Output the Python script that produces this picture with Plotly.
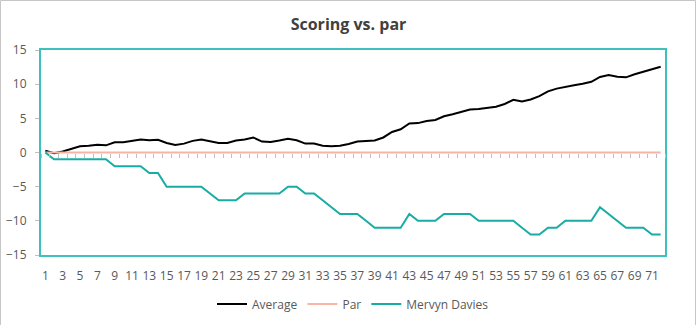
import plotly.graph_objects as go

holes = list(range(1, 73))
average = [0.25, -0.1, 0.15, 0.5, 0.9, 1.0, 1.15, 1.05, 1.5, 1.5, 1.7, 1.9, 1.8, 1.85, 1.4, 1.1,
           1.3, 1.7, 1.9, 1.65, 1.4, 1.4, 1.75, 1.9, 2.2, 1.6, 1.55, 1.75, 2.0, 1.8, 1.3, 1.3,
           1.0, 0.9, 1.0, 1.25, 1.6, 1.7, 1.75, 2.2, 3.0, 3.4, 4.25, 4.3, 4.6, 4.75, 5.3, 5.6,
           5.9, 6.3, 6.35, 6.5, 6.7, 7.1, 7.7, 7.45, 7.75, 8.25, 8.95, 9.35, 9.65, 9.85, 10.05,
           10.35, 11.05, 11.35, 11.1, 11.0, 11.45, 11.85, 12.25, 12.55]
par = [0] * 72
mervyn = [0, -1, -1, -1, -1, -1, -1, -1, -2, -2, -2, -2, -3, -3, -5, -5, -5, -5, -5, -6,
          -7, -7, -7, -6, -6, -6, -6, -6, -5, -5, -6, -6, -7, -8, -9, -9, -9, -10, -11, -11,
          -11, -11, -9, -10, -10, -10, -9, -9, -9, -9, -10, -10, -10, -10, -10, -11, -12, -12,
          -11, -11, -10, -10, -10, -10, -8, -9, -10, -11, -11, -11, -12, -12]
x_tick_vals = list(range(1, 72, 2))
x_tick_text = [str(v) for v in x_tick_vals]
y_tick_vals = [-15, -10, -5, 0, 5, 10, 15]

W, H = 697, 325
ML, MR, MT, MB = 41, 32, 50, 70
PW, PH = W - ML - MR, H - MT - MB

fig = go.Figure()
fig.add_trace(go.Scatter(x=holes, y=average, name="Average", mode="lines",
                         line=dict(color="#000000", width=2)))
fig.add_trace(go.Scatter(x=holes, y=par, name="Par", mode="lines",
                         line=dict(color="#F7B5A5", width=2)))
fig.add_trace(go.Scatter(x=holes, y=mervyn, name="Mervyn Davies", mode="lines",
                         line=dict(color="#17ADA5", width=2)))

font = "Open Sans, Noto Sans, sans-serif"
fig.update_layout(
    width=W, height=H,
    margin=dict(l=ML, r=MR, t=MT, b=MB, autoexpand=False),
    paper_bgcolor="white", plot_bgcolor="white",
    title=dict(text="<b>Scoring vs. par</b>", x=0.5, xanchor="center", y=1 - 24 / H,
               yanchor="middle", font=dict(family=font, size=16, color="#404040")),
    font=dict(family=font, size=12, color="#595959"),
    showlegend=True,
    legend=dict(orientation="h", x=0.5, xanchor="center", y=-49 / PH, yanchor="middle",
                font=dict(family=font, size=12, color="#595959"), traceorder="normal"),
    xaxis=dict(range=[0.5, 72.5], tickmode="array", tickvals=x_tick_vals, ticktext=x_tick_text,
               showgrid=False, zeroline=False, showline=True, mirror=True, automargin=False,
               linecolor="#3EC1BD", linewidth=2, ticks="", ticklabelstandoff=9,
               tickfont=dict(family=font, size=12, color="#595959")),
    xaxis2=dict(range=[0.5, 72.5], overlaying="x", anchor="free", position=0.5,
                tickmode="linear", tick0=0.5, dtick=1, ticks="outside", ticklen=4,
                tickcolor="#BFBFBF", tickwidth=1, showticklabels=False, automargin=False,
                showgrid=False, zeroline=False, showline=False),
    yaxis=dict(range=[-15, 15], tickmode="array", tickvals=y_tick_vals,
               showgrid=False, zeroline=False, showline=True, mirror=True, automargin=False,
               linecolor="#3EC1BD", linewidth=2, ticks="outside", ticklen=4,
               tickcolor="#BFBFBF", ticklabelstandoff=6,
               tickfont=dict(family=font, size=12, color="#595959")),
)
# invisible trace to activate the tick overlay axis
fig.add_trace(go.Scatter(x=[holes[0]], y=[par[0]], xaxis="x2", mode="lines",
                         showlegend=False, hoverinfo="skip", line=dict(width=0)))

fig.add_shape(type="rect", xref="paper", yref="paper",
              x0=(0.5 - ML) / PW, x1=(W - 1.5 - ML) / PW,
              y0=(MB - (H - 1.5)) / PH, y1=(MB + PH + MT - 0.5 - MB) / PH,
              line=dict(color="#C6C6C6", width=1), layer="below")
fig.write_html("out.html")
